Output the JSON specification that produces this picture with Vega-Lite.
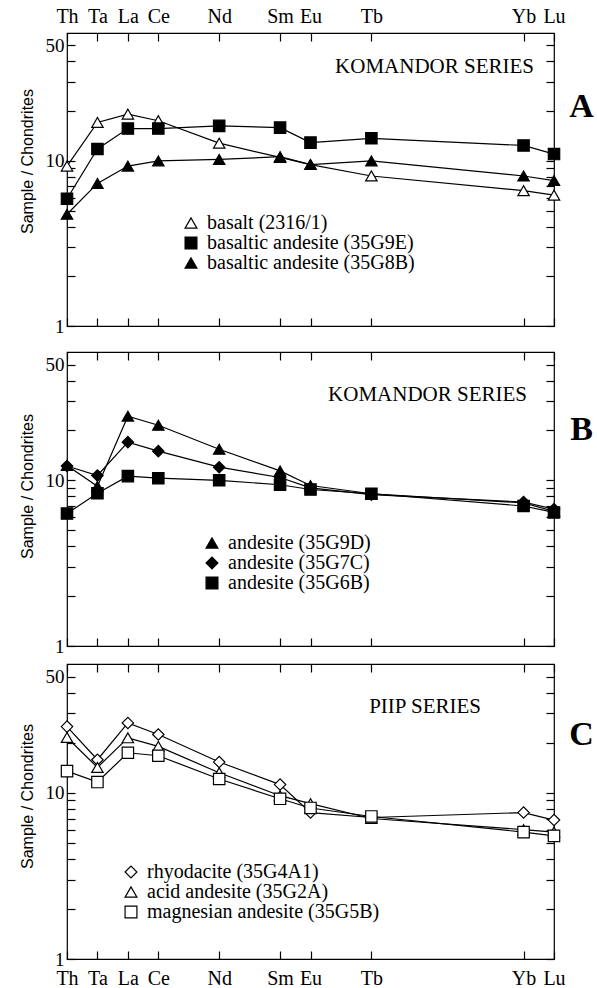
{
  "$schema": "https://vega.github.io/schema/vega-lite/v6.json",
  "padding": {"left": 18, "top": 5, "right": 0, "bottom": 0},
  "background": "white",
  "config": {
    "view": {"stroke": "black", "strokeWidth": 1.2},
    "axis": {"grid": false, "domain": false, "tickColor": "black", "tickSize": -8, "tickWidth": 1.2, "labelFlush": false, "labelOverlap": false,
      "labelFont": "Liberation Serif", "labelFontSize": 19, "labelColor": "black",
      "titleFont": "Liberation Sans", "titleFontWeight": "normal", "titleColor": "black", "titleFontSize": 16},
    "legend": {"labelFont": "Liberation Serif", "labelFontSize": 20, "labelColor": "black", "labelLimit": 0, "symbolSize": 140,
      "symbolStrokeColor": "black", "symbolStrokeWidth": 1.2, "rowPadding": 0, "labelOffset": 6, "padding": 0},
    "title": {"font": "Liberation Serif", "fontSize": 21, "fontWeight": "normal", "color": "black", "anchor": "end", "baseline": "alphabetic", "frame": "group"}
  },
  "datasets": {
    "A": [
      {"sample": "basalt (2316/1)", "element": "Th", "pos": 55, "value": 9.3},
      {"sample": "basalt (2316/1)", "element": "Ta", "pos": 56, "value": 17.1},
      {"sample": "basalt (2316/1)", "element": "La", "pos": 57, "value": 19.2},
      {"sample": "basalt (2316/1)", "element": "Ce", "pos": 58, "value": 17.5},
      {"sample": "basalt (2316/1)", "element": "Nd", "pos": 60, "value": 12.8},
      {"sample": "basalt (2316/1)", "element": "Sm", "pos": 62, "value": 10.5},
      {"sample": "basalt (2316/1)", "element": "Eu", "pos": 63, "value": 9.5},
      {"sample": "basalt (2316/1)", "element": "Tb", "pos": 65, "value": 8.1},
      {"sample": "basalt (2316/1)", "element": "Yb", "pos": 70, "value": 6.6},
      {"sample": "basalt (2316/1)", "element": "Lu", "pos": 71, "value": 6.2},
      {"sample": "basaltic andesite (35G9E)", "element": "Th", "pos": 55, "value": 5.9},
      {"sample": "basaltic andesite (35G9E)", "element": "Ta", "pos": 56, "value": 11.8},
      {"sample": "basaltic andesite (35G9E)", "element": "La", "pos": 57, "value": 15.7},
      {"sample": "basaltic andesite (35G9E)", "element": "Ce", "pos": 58, "value": 15.7},
      {"sample": "basaltic andesite (35G9E)", "element": "Nd", "pos": 60, "value": 16.3},
      {"sample": "basaltic andesite (35G9E)", "element": "Sm", "pos": 62, "value": 15.9},
      {"sample": "basaltic andesite (35G9E)", "element": "Eu", "pos": 63, "value": 12.9},
      {"sample": "basaltic andesite (35G9E)", "element": "Tb", "pos": 65, "value": 13.7},
      {"sample": "basaltic andesite (35G9E)", "element": "Yb", "pos": 70, "value": 12.4},
      {"sample": "basaltic andesite (35G9E)", "element": "Lu", "pos": 71, "value": 11.0},
      {"sample": "basaltic andesite (35G8B)", "element": "Th", "pos": 55, "value": 4.75},
      {"sample": "basaltic andesite (35G8B)", "element": "Ta", "pos": 56, "value": 7.3},
      {"sample": "basaltic andesite (35G8B)", "element": "La", "pos": 57, "value": 9.3},
      {"sample": "basaltic andesite (35G8B)", "element": "Ce", "pos": 58, "value": 10.0},
      {"sample": "basaltic andesite (35G8B)", "element": "Nd", "pos": 60, "value": 10.2},
      {"sample": "basaltic andesite (35G8B)", "element": "Sm", "pos": 62, "value": 10.6},
      {"sample": "basaltic andesite (35G8B)", "element": "Eu", "pos": 63, "value": 9.5},
      {"sample": "basaltic andesite (35G8B)", "element": "Tb", "pos": 65, "value": 10.0},
      {"sample": "basaltic andesite (35G8B)", "element": "Yb", "pos": 70, "value": 8.1},
      {"sample": "basaltic andesite (35G8B)", "element": "Lu", "pos": 71, "value": 7.6}
    ],
    "B": [
      {"sample": "andesite (35G9D)", "element": "Th", "pos": 55, "value": 12.3},
      {"sample": "andesite (35G9D)", "element": "Ta", "pos": 56, "value": 9.2},
      {"sample": "andesite (35G9D)", "element": "La", "pos": 57, "value": 24.4},
      {"sample": "andesite (35G9D)", "element": "Ce", "pos": 58, "value": 21.5},
      {"sample": "andesite (35G9D)", "element": "Nd", "pos": 60, "value": 15.4},
      {"sample": "andesite (35G9D)", "element": "Sm", "pos": 62, "value": 11.4},
      {"sample": "andesite (35G9D)", "element": "Eu", "pos": 63, "value": 9.3},
      {"sample": "andesite (35G9D)", "element": "Tb", "pos": 65, "value": 8.3},
      {"sample": "andesite (35G9D)", "element": "Yb", "pos": 70, "value": 7.3},
      {"sample": "andesite (35G9D)", "element": "Lu", "pos": 71, "value": 6.5},
      {"sample": "andesite (35G7C)", "element": "Th", "pos": 55, "value": 12.2},
      {"sample": "andesite (35G7C)", "element": "Ta", "pos": 56, "value": 10.7},
      {"sample": "andesite (35G7C)", "element": "La", "pos": 57, "value": 17.0},
      {"sample": "andesite (35G7C)", "element": "Ce", "pos": 58, "value": 15.0},
      {"sample": "andesite (35G7C)", "element": "Nd", "pos": 60, "value": 12.0},
      {"sample": "andesite (35G7C)", "element": "Sm", "pos": 62, "value": 10.4},
      {"sample": "andesite (35G7C)", "element": "Eu", "pos": 63, "value": 9.0},
      {"sample": "andesite (35G7C)", "element": "Tb", "pos": 65, "value": 8.2},
      {"sample": "andesite (35G7C)", "element": "Yb", "pos": 70, "value": 7.4},
      {"sample": "andesite (35G7C)", "element": "Lu", "pos": 71, "value": 6.7},
      {"sample": "andesite (35G6B)", "element": "Th", "pos": 55, "value": 6.3},
      {"sample": "andesite (35G6B)", "element": "Ta", "pos": 56, "value": 8.35},
      {"sample": "andesite (35G6B)", "element": "La", "pos": 57, "value": 10.6},
      {"sample": "andesite (35G6B)", "element": "Ce", "pos": 58, "value": 10.3},
      {"sample": "andesite (35G6B)", "element": "Nd", "pos": 60, "value": 10.0},
      {"sample": "andesite (35G6B)", "element": "Sm", "pos": 62, "value": 9.4},
      {"sample": "andesite (35G6B)", "element": "Eu", "pos": 63, "value": 8.8},
      {"sample": "andesite (35G6B)", "element": "Tb", "pos": 65, "value": 8.3},
      {"sample": "andesite (35G6B)", "element": "Yb", "pos": 70, "value": 7.0},
      {"sample": "andesite (35G6B)", "element": "Lu", "pos": 71, "value": 6.4}
    ],
    "C": [
      {"sample": "rhyodacite (35G4A1)", "element": "Th", "pos": 55, "value": 25.0},
      {"sample": "rhyodacite (35G4A1)", "element": "Ta", "pos": 56, "value": 15.8},
      {"sample": "rhyodacite (35G4A1)", "element": "La", "pos": 57, "value": 26.3},
      {"sample": "rhyodacite (35G4A1)", "element": "Ce", "pos": 58, "value": 22.4},
      {"sample": "rhyodacite (35G4A1)", "element": "Nd", "pos": 60, "value": 15.3},
      {"sample": "rhyodacite (35G4A1)", "element": "Sm", "pos": 62, "value": 11.2},
      {"sample": "rhyodacite (35G4A1)", "element": "Eu", "pos": 63, "value": 7.6},
      {"sample": "rhyodacite (35G4A1)", "element": "Tb", "pos": 65, "value": 7.1},
      {"sample": "rhyodacite (35G4A1)", "element": "Yb", "pos": 70, "value": 7.6},
      {"sample": "rhyodacite (35G4A1)", "element": "Lu", "pos": 71, "value": 6.85},
      {"sample": "acid andesite (35G2A)", "element": "Th", "pos": 55, "value": 21.5},
      {"sample": "acid andesite (35G2A)", "element": "Ta", "pos": 56, "value": 14.2},
      {"sample": "acid andesite (35G2A)", "element": "La", "pos": 57, "value": 21.4},
      {"sample": "acid andesite (35G2A)", "element": "Ce", "pos": 58, "value": 19.0},
      {"sample": "acid andesite (35G2A)", "element": "Nd", "pos": 60, "value": 13.2},
      {"sample": "acid andesite (35G2A)", "element": "Sm", "pos": 62, "value": 9.6},
      {"sample": "acid andesite (35G2A)", "element": "Eu", "pos": 63, "value": 8.6},
      {"sample": "acid andesite (35G2A)", "element": "Tb", "pos": 65, "value": 7.0},
      {"sample": "acid andesite (35G2A)", "element": "Yb", "pos": 70, "value": 6.0},
      {"sample": "acid andesite (35G2A)", "element": "Lu", "pos": 71, "value": 5.8},
      {"sample": "magnesian andesite (35G5B)", "element": "Th", "pos": 55, "value": 13.5},
      {"sample": "magnesian andesite (35G5B)", "element": "Ta", "pos": 56, "value": 11.6},
      {"sample": "magnesian andesite (35G5B)", "element": "La", "pos": 57, "value": 17.4},
      {"sample": "magnesian andesite (35G5B)", "element": "Ce", "pos": 58, "value": 16.7},
      {"sample": "magnesian andesite (35G5B)", "element": "Nd", "pos": 60, "value": 12.1},
      {"sample": "magnesian andesite (35G5B)", "element": "Sm", "pos": 62, "value": 9.2},
      {"sample": "magnesian andesite (35G5B)", "element": "Eu", "pos": 63, "value": 8.1},
      {"sample": "magnesian andesite (35G5B)", "element": "Tb", "pos": 65, "value": 7.2},
      {"sample": "magnesian andesite (35G5B)", "element": "Yb", "pos": 70, "value": 5.8},
      {"sample": "magnesian andesite (35G5B)", "element": "Lu", "pos": 71, "value": 5.5}
    ]
  },
  "spacing": 13,
  "resolve": {"scale": {"x": "independent", "y": "independent", "shape": "independent", "fill": "independent", "stroke": "independent"}, "legend": {"shape": "independent", "fill": "independent", "stroke": "independent"}},
  "vconcat": [
    {
      "width": 487, "height": 293,
      "data": {"name": "A"},
      "title": {"text": "KOMANDOR SERIES", "dx": -20, "offset": -71},
      "resolve": {"axis": {"x": "independent", "y": "independent"}},
      "layer": [
        {
          "mark": {"type": "line", "color": "black", "strokeWidth": 1.2},
          "encoding": {
            "x": {"field": "pos", "type": "quantitative", "scale": {"domain": [55, 71], "nice": false, "zero": false},
              "axis": {"orient": "top", "title": null, "values": [55, 56, 57, 58, 60, 62, 63, 65, 70, 71], "labelPadding": 15,
                "labelExpr": "['Th','Ta','La','Ce','','Nd','','Sm','Eu','','Tb','','','','','Yb','Lu'][datum.value-55]", "labelFontSize": 20}},
            "y": {"field": "value", "type": "quantitative", "scale": {"type": "log", "domain": [1, 59.5], "nice": false},
              "axis": {"orient": "left", "title": "Sample / Chondrites", "titleY": 128, "titlePadding": 10, "labelPadding": 11,
                "values": [1, 2, 3, 4, 5, 6, 7, 8, 9, 10, 20, 30, 40, 50],
                "labelExpr": "datum.value==1?'1':datum.value==10?'10':datum.value==50?'50':''"}},
            "detail": {"field": "sample"}
          }
        },
        {
          "mark": {"type": "point", "filled": true, "strokeWidth": 1.2, "size": 130, "opacity": 1},
          "encoding": {
            "x": {"field": "pos", "type": "quantitative", "axis": {"orient": "bottom", "title": null, "labels": false, "values": [55, 56, 57, 58, 60, 62, 63, 65, 70, 71]}},
            "y": {"field": "value", "type": "quantitative",
              "axis": {"orient": "right", "labels": false, "values": [1, 2, 3, 4, 5, 6, 7, 8, 9, 10, 20, 30, 40, 50],
                "title": "A", "titleAngle": 0, "titleX": 27, "titleY": 73, "titleAlign": "center", "titleBaseline": "middle",
                "titleFont": "Liberation Serif", "titleFontSize": 34, "titleFontWeight": "bold"}},
            "shape": {"field": "sample", "type": "nominal",
              "scale": {"domain": ["basalt (2316/1)", "basaltic andesite (35G9E)", "basaltic andesite (35G8B)"], "range": ["triangle-up", "square", "triangle-up"]},
              "legend": {"orient": "none", "legendX": 114, "legendY": 180, "title": null}},
            "fill": {"field": "sample", "type": "nominal",
              "scale": {"domain": ["basalt (2316/1)", "basaltic andesite (35G9E)", "basaltic andesite (35G8B)"], "range": ["white", "black", "black"]},
              "legend": {"orient": "none", "legendX": 114, "legendY": 180, "title": null}},
            "stroke": {"field": "sample", "type": "nominal",
              "scale": {"domain": ["basalt (2316/1)", "basaltic andesite (35G9E)", "basaltic andesite (35G8B)"], "range": ["black", "black", "black"]},
              "legend": {"orient": "none", "legendX": 114, "legendY": 180, "title": null}}
          }
        }
      ]
    },
    {
      "spacing": 5,
      "resolve": {"scale": {"x": "independent", "y": "independent", "shape": "independent", "fill": "independent", "stroke": "independent"}, "legend": {"shape": "independent", "fill": "independent", "stroke": "independent"}},
      "vconcat": [
        {
          "width": 487, "height": 294,
          "data": {"name": "B"},
          "title": {"text": "KOMANDOR SERIES", "dx": -27, "offset": -54},
          "resolve": {"axis": {"x": "independent", "y": "independent"}},
          "layer": [
            {
              "mark": {"type": "line", "color": "black", "strokeWidth": 1.2},
              "encoding": {
                "x": {"field": "pos", "type": "quantitative", "scale": {"domain": [55, 71], "nice": false, "zero": false},
                  "axis": {"orient": "top", "title": null, "labels": false, "values": [55, 56, 57, 58, 60, 62, 63, 65, 70, 71]}},
                "y": {"field": "value", "type": "quantitative", "scale": {"type": "log", "domain": [1, 59.5], "nice": false},
                  "axis": {"orient": "left", "title": "Sample / Chondrites", "titleY": 134, "titlePadding": 10, "labelPadding": 11,
                    "values": [1, 2, 3, 4, 5, 6, 7, 8, 9, 10, 20, 30, 40, 50],
                    "labelExpr": "datum.value==1?'1':datum.value==10?'10':datum.value==50?'50':''"}},
                "detail": {"field": "sample"}
              }
            },
            {
              "mark": {"type": "point", "filled": true, "strokeWidth": 1.2, "size": 130, "opacity": 1},
              "encoding": {
                "x": {"field": "pos", "type": "quantitative", "axis": {"orient": "bottom", "title": null, "labels": false, "values": [55, 56, 57, 58, 60, 62, 63, 65, 70, 71]}},
                "y": {"field": "value", "type": "quantitative",
                  "axis": {"orient": "right", "labels": false, "values": [1, 2, 3, 4, 5, 6, 7, 8, 9, 10, 20, 30, 40, 50],
                    "title": "B", "titleAngle": 0, "titleX": 27, "titleY": 77, "titleAlign": "center", "titleBaseline": "middle",
                    "titleFont": "Liberation Serif", "titleFontSize": 34, "titleFontWeight": "bold"}},
                "shape": {"field": "sample", "type": "nominal",
                  "scale": {"domain": ["andesite (35G9D)", "andesite (35G7C)", "andesite (35G6B)"], "range": ["triangle-up", "diamond", "square"]},
                  "legend": {"orient": "none", "legendX": 135, "legendY": 181, "title": null}},
                "fill": {"field": "sample", "type": "nominal",
                  "scale": {"domain": ["andesite (35G9D)", "andesite (35G7C)", "andesite (35G6B)"], "range": ["black", "black", "black"]},
                  "legend": {"orient": "none", "legendX": 135, "legendY": 181, "title": null}},
                "stroke": {"field": "sample", "type": "nominal",
                  "scale": {"domain": ["andesite (35G9D)", "andesite (35G7C)", "andesite (35G6B)"], "range": ["black", "black", "black"]},
                  "legend": {"orient": "none", "legendX": 135, "legendY": 181, "title": null}}
              }
            }
          ]
        },
        {
          "width": 487, "height": 295,
          "data": {"name": "C"},
          "title": {"text": "PIIP SERIES", "dx": -73, "offset": -54},
          "resolve": {"axis": {"x": "independent", "y": "independent"}},
          "layer": [
            {
              "mark": {"type": "line", "color": "black", "strokeWidth": 1.2},
              "encoding": {
                "x": {"field": "pos", "type": "quantitative", "scale": {"domain": [55, 71], "nice": false, "zero": false},
                  "axis": {"orient": "bottom", "title": null, "values": [55, 56, 57, 58, 60, 62, 63, 65, 70, 71], "labelPadding": 17,
                    "labelExpr": "['Th','Ta','La','Ce','','Nd','','Sm','Eu','','Tb','','','','','Yb','Lu'][datum.value-55]", "labelFontSize": 20}},
                "y": {"field": "value", "type": "quantitative", "scale": {"type": "log", "domain": [1, 59.5], "nice": false},
                  "axis": {"orient": "left", "title": "Sample / Chondrites", "titleY": 132, "titlePadding": 10, "labelPadding": 11,
                    "values": [1, 2, 3, 4, 5, 6, 7, 8, 9, 10, 20, 30, 40, 50],
                    "labelExpr": "datum.value==1?'1':datum.value==10?'10':datum.value==50?'50':''"}},
                "detail": {"field": "sample"}
              }
            },
            {
              "mark": {"type": "point", "filled": true, "strokeWidth": 1.2, "size": 130, "opacity": 1},
              "encoding": {
                "x": {"field": "pos", "type": "quantitative", "axis": {"orient": "top", "title": null, "labels": false, "values": [55, 56, 57, 58, 60, 62, 63, 65, 70, 71]}},
                "y": {"field": "value", "type": "quantitative",
                  "axis": {"orient": "right", "labels": false, "values": [1, 2, 3, 4, 5, 6, 7, 8, 9, 10, 20, 30, 40, 50],
                    "title": "C", "titleAngle": 0, "titleX": 27, "titleY": 70, "titleAlign": "center", "titleBaseline": "middle",
                    "titleFont": "Liberation Serif", "titleFontSize": 34, "titleFontWeight": "bold"}},
                "shape": {"field": "sample", "type": "nominal",
                  "scale": {"domain": ["rhyodacite (35G4A1)", "acid andesite (35G2A)", "magnesian andesite (35G5B)"], "range": ["diamond", "triangle-up", "square"]},
                  "legend": {"orient": "none", "legendX": 54, "legendY": 198, "title": null}},
                "fill": {"field": "sample", "type": "nominal",
                  "scale": {"domain": ["rhyodacite (35G4A1)", "acid andesite (35G2A)", "magnesian andesite (35G5B)"], "range": ["white", "white", "white"]},
                  "legend": {"orient": "none", "legendX": 54, "legendY": 198, "title": null}},
                "stroke": {"field": "sample", "type": "nominal",
                  "scale": {"domain": ["rhyodacite (35G4A1)", "acid andesite (35G2A)", "magnesian andesite (35G5B)"], "range": ["black", "black", "black"]},
                  "legend": {"orient": "none", "legendX": 54, "legendY": 198, "title": null}}
              }
            }
          ]
        }
      ]
    }
  ]
}
